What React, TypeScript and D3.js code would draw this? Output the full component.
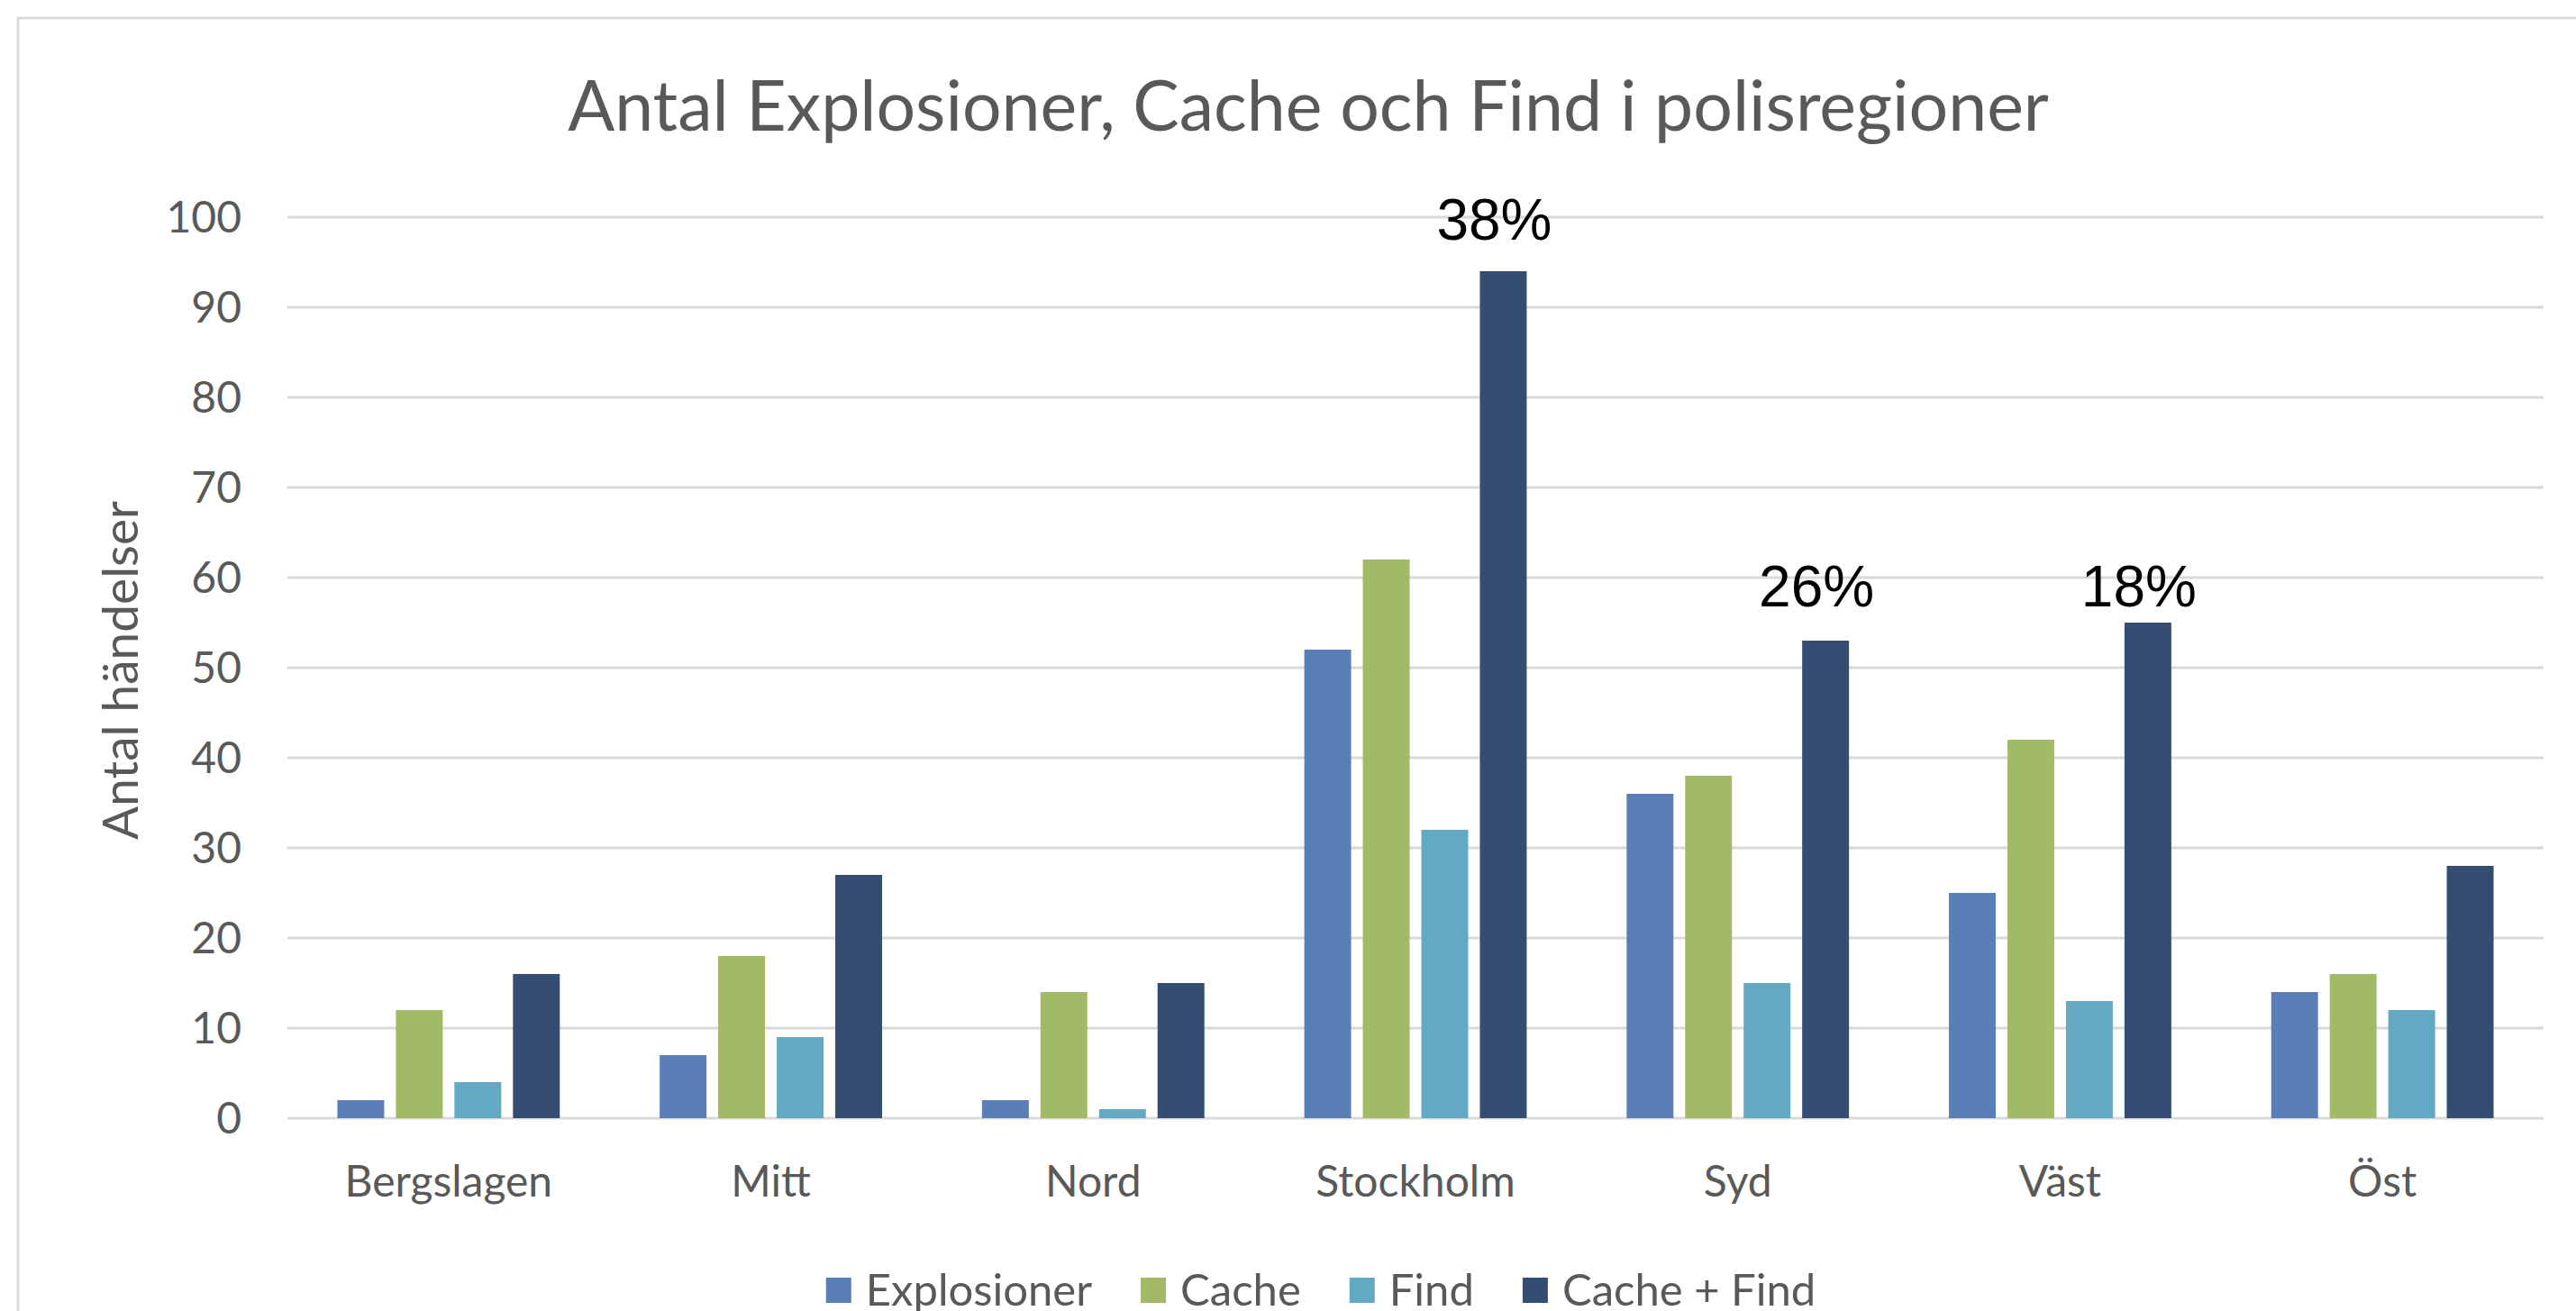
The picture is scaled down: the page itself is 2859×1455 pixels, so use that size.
import * as d3 from 'd3'

const regions = ['Bergslagen', 'Mitt', 'Nord', 'Stockholm', 'Syd', 'Väst', 'Öst']
const seriesNames = ['Explosioner', 'Cache', 'Find', 'Cache + Find']
const explosioner = [2, 7, 2, 52, 36, 25, 14]
const cache = [12, 18, 14, 62, 38, 42, 16]
const find = [4, 9, 1, 32, 15, 13, 12]
const cacheFind = [16, 27, 15, 94, 53, 55, 28]
const yTicks = [0, 10, 20, 30, 40, 50, 60, 70, 80, 90, 100]
// share annotations, placed above the "Cache + Find" bar (level in axis units)
const shares = [
  { region: 'Stockholm', text: '38%', level: 97.5 },
  { region: 'Syd', text: '26%', level: 56.8 },
  { region: 'Väst', text: '18%', level: 56.8 },
]

const colors = ['#5a7fb6', '#a2b966', '#64a9c3', '#344d70']
const values = [explosioner, cache, find, cacheFind]

const W = 2859
const H = 1455
const font = 'Lato, "Open Sans", sans-serif'
const grey = '#595959'

const measure = (text: string, size: number) => {
  const ctx = document.createElement('canvas').getContext('2d')
  if (!ctx) return text.length * size * 0.5
  ctx.font = `${size}px Lato`
  return ctx.measureText(text).width
}

const App = () => {
  const x0 = d3.scaleBand<string>().domain(regions).range([319, 2823]).paddingInner(0.31).paddingOuter(0.155)
  const x1 = d3.scaleBand<string>().domain(seriesNames).range([0, x0.bandwidth()]).paddingInner(0.2)
  const y = d3.scaleLinear().domain([0, 100]).range([1241, 241])

  // legend layout
  const sq = 28
  const legendSize = 49
  const legendItems = seriesNames.map((name) => ({ name, w: sq + 16 + measure(name, legendSize) }))
  const legendGap = 54
  const legendTotal = d3.sum(legendItems, (d) => d.w) + legendGap * (legendItems.length - 1)
  let lx = 1466 - legendTotal / 2
  const legendPos = legendItems.map((d) => {
    const p = lx
    lx += d.w + legendGap
    return p
  })

  return (
    <svg width={W} height={H} style={{ position: 'absolute', left: 0, top: 0, display: 'block', background: '#fff' }}>
      <rect x={20} y={20} width={W + 40} height={H + 40} fill="#fff" stroke="#d9d9d9" strokeWidth={3} />

      <text x={1452} y={145} textAnchor="middle" fontFamily={font} fontSize={77} fill={grey}>
        Antal Explosioner, Cache och Find i polisregioner
      </text>

      {yTicks.map((t) => (
        <g key={t}>
          <line x1={319} x2={2823} y1={y(t)} y2={y(t)} stroke="#d9d9d9" strokeWidth={3} />
          <text x={268} y={y(t)} dy="0.36em" textAnchor="end" fontFamily={font} fontSize={48} fill={grey}>
            {t}
          </text>
        </g>
      ))}

      <text
        transform={`translate(153,744) rotate(-90)`}
        textAnchor="middle"
        fontFamily={font}
        fontSize={55}
        fill={grey}
      >
        Antal händelser
      </text>

      {regions.map((r, i) => (
        <g key={r} transform={`translate(${x0(r)},0)`}>
          {seriesNames.map((s, j) => (
            <rect
              key={s}
              x={x1(s)}
              y={y(values[j][i])}
              width={x1.bandwidth()}
              height={y(0) - y(values[j][i])}
              fill={colors[j]}
            />
          ))}
          <text
            x={x0.bandwidth() / 2}
            y={1328}
            textAnchor="middle"
            fontFamily={font}
            fontSize={48}
            fill={grey}
          >
            {r}
          </text>
        </g>
      ))}

      {shares.map((s) => (
        <text
          key={s.region}
          x={(x0(s.region) ?? 0) + (x1('Cache + Find') ?? 0) + x1.bandwidth() / 2 - 10}
          y={y(s.level)}
          textAnchor="middle"
          fontFamily='"Liberation Sans", Arial, sans-serif'
          fontSize={64}
          fill="#000"
        >
          {s.text}
        </text>
      ))}

      {legendItems.map((d, i) => (
        <g key={d.name} transform={`translate(${legendPos[i]},0)`}>
          <rect x={0} y={1418} width={sq} height={sq} fill={colors[i]} />
          <text x={sq + 16} y={1449} fontFamily={font} fontSize={legendSize} fill={grey}>
            {d.name}
          </text>
        </g>
      ))}
    </svg>
  )
}

export default App
